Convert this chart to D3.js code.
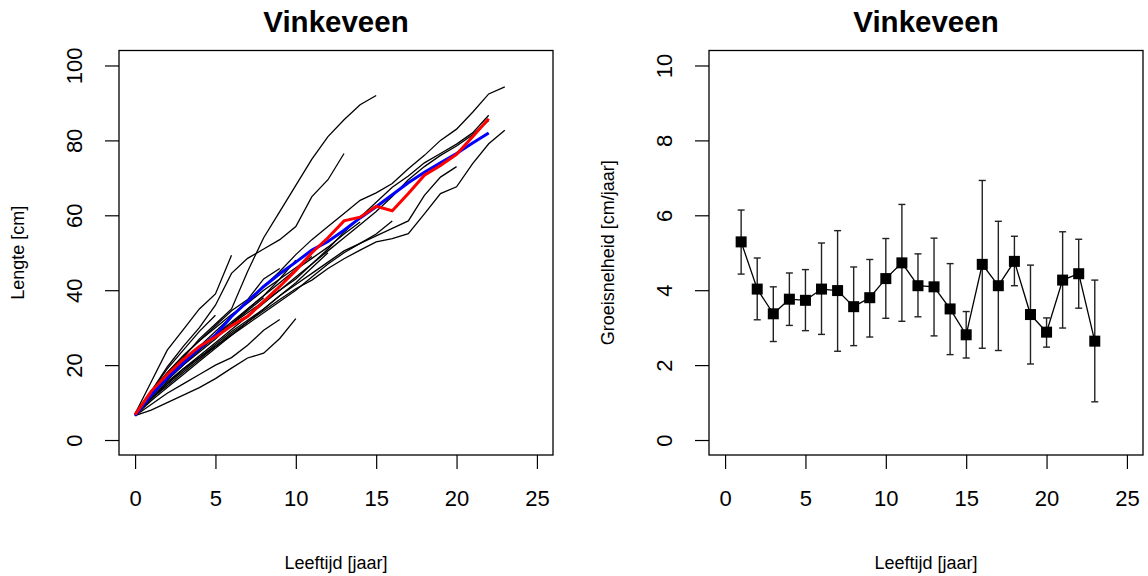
<!DOCTYPE html>
<html>
<head>
<meta charset="utf-8">
<script src="https://cdn.jsdelivr.net/npm/d3@7"></script>
<style>
  body { margin: 0; background: #fff; }
  svg { font-family: "Liberation Sans", Arial, sans-serif; }
</style>
</head>
<body>
<div id="chart"></div>
<script>
// lengte per vis (cm), index = leeftijd (jaar) vanaf 0
const vis1  = [7, 12, 17, 22, 27, 31, 35, 45, 54, 61, 68, 75, 81, 85.5, 89.5, 92];
const vis2  = [7, 13, 19.5, 25, 30, 36, 44.5, 48.5, 51, 53.5, 57, 65, 69.5, 76.5];
const vis3  = [7, 15.5, 24, 29.5, 35, 39, 49.3];
const vis4  = [7, 12, 17, 21, 25, 29, 33, 37, 41, 45, 49.5, 53.5, 57, 60.5, 64, 66, 68.5, 72.4, 76, 80, 83, 87.5, 92.4, 94.3];
const vis5  = [6.5, 11, 15, 19, 22, 25, 28.5, 31.5, 34.5, 37.5, 40.4, 42.7, 45.8, 48.4, 50.7, 52.9, 53.8, 55.1, 60.4, 65.8, 67.6, 73.8, 79.1, 82.7];
const vis6  = [7, 12, 16, 20, 24, 27.5, 31, 34, 37, 40, 43, 47, 51, 55.5, 59.5, 63.5, 67.5, 70.5, 74, 76.5, 79, 82, 86.7];
const vis7  = [7, 11.5, 15.5, 19, 22.5, 26, 29.5, 33, 36.5, 40, 43.5, 47, 50.5, 54, 57.5, 61, 65, 69.5, 73, 76, 78.5, 81.5, 85.3];
const vis8  = [6.5, 10.5, 14, 17.5, 21, 24.5, 28, 31.5, 35, 38.5, 41.5, 44.5, 47.5, 50.5, 52.5, 54.5, 56.5, 58.5, 65.3, 70.2, 73];
const vis9  = [7, 12, 16.5, 20.5, 24, 28, 31.5, 35, 38.5, 42, 45.5, 48.5, 51.5, 55, 58.2];
const vis10 = [7, 12, 16, 20, 23.5, 27, 31, 35, 38.5, 43, 48];
const vis11 = [7, 13, 18, 22.5, 26.5, 30.5, 34.5, 37.5, 43, 45.8];
const vis12 = [7, 13, 19, 24, 29, 33.3];
const vis13 = [6.5, 8, 10, 12, 14, 16.4, 19.2, 21.9, 23.2, 27.1, 32.4];
const vis14 = [6.5, 9.5, 12.5, 15, 17.5, 20, 22, 25.3, 29.3, 32.2];
const vis15 = [7, 11, 15, 18.5, 22, 25.5, 29, 32, 35, 38.5, 42, 46, 50];
const vis16 = [7, 12.5, 17, 21, 24.5, 28, 31, 34.5, 38];
const vis17 = [7, 13, 18, 22.5, 26.5, 30, 33.5, 36.5, 40, 43, 46, 49];
const vis18 = [6.5, 11, 14.5, 18, 21.5, 25, 28, 31, 34, 37, 40, 43.5, 47, 50, 52.5, 55, 58.5];
const vissen = [vis1, vis2, vis3, vis4, vis5, vis6, vis7, vis8, vis9, vis10, vis11, vis12, vis13, vis14, vis15, vis16, vis17, vis18];

// blauw = gefitte groeicurve, rood = gemiddelde lengte per leeftijd
const lengteBlauw = [6.5, 12, 16.5, 20.5, 24.5, 28, 33, 37, 41, 44.4, 47.5, 50.7, 53, 56, 59.3, 62.3, 65.5, 68.7, 71.5, 74, 76.5, 79.3, 82];
const lengteRood  = [6.8, 13, 17.5, 21.5, 25, 27.5, 30.5, 33, 37, 41, 45.3, 50, 54, 58.5, 59.5, 62.4, 61.2, 65.8, 70.7, 73.3, 76.3, 81, 85.8];

// groeisnelheid per leeftijd (cm/jaar) met foutbalken
const leeftijdGroei = [1, 2, 3, 4, 5, 6, 7, 8, 9, 10, 11, 12, 13, 14, 15, 16, 17, 18, 19, 20, 21, 22, 23];
const groei     = [5.29, 4.03, 3.37, 3.76, 3.73, 4.03, 3.99, 3.56, 3.80, 4.31, 4.73, 4.12, 4.09, 3.50, 2.81, 4.69, 4.12, 4.77, 3.35, 2.88, 4.27, 4.44, 2.64];
const groeiHoog = [6.14, 4.86, 4.09, 4.46, 4.55, 5.26, 5.59, 4.62, 4.82, 5.38, 6.29, 4.97, 5.39, 4.71, 3.43, 6.93, 5.84, 5.44, 4.67, 3.26, 5.56, 5.36, 4.27];
const groeiLaag = [4.43, 3.21, 2.63, 3.06, 2.92, 2.82, 2.37, 2.52, 2.75, 3.25, 3.17, 3.29, 2.78, 2.28, 2.19, 2.45, 2.39, 4.12, 2.03, 2.48, 2.99, 3.52, 1.02];

const xTicks = [0, 5, 10, 15, 20, 25];
const yTicksL = [0, 20, 40, 60, 80, 100];
const yTicksR = [0, 2, 4, 6, 8, 10];

const W = 1148, H = 576;
const svg = d3.select("#chart").append("svg").attr("width", W).attr("height", H);

const plotTop = 50.5, plotBottom = 455;

function paneel(left, right, yDomain, yTicks, ylab) {
  const x = d3.scaleLinear().domain([-1, 26]).range([left, right]);
  const y = d3.scaleLinear().domain(yDomain).range([plotBottom, plotTop]);
  const g = svg.append("g");

  // x-as
  const ax = g.append("g").attr("transform", "translate(0," + plotBottom + ")")
    .call(d3.axisBottom(x).tickValues(xTicks).tickSize(14).tickSizeOuter(0).tickPadding(21));
  ax.select(".domain").remove();
  ax.selectAll("line").attr("stroke", "#000").attr("stroke-width", 1.2);
  ax.selectAll("text").attr("font-size", 22).attr("fill", "#000");

  // y-as, labels gedraaid zoals in R
  const ay = g.append("g").attr("transform", "translate(" + left + ",0)")
    .call(d3.axisLeft(y).tickValues(yTicks).tickSize(14).tickSizeOuter(0));
  ay.select(".domain").remove();
  ay.selectAll("line").attr("stroke", "#000").attr("stroke-width", 1.2);
  ay.selectAll("text")
    .attr("x", null).attr("dy", null)
    .attr("transform", "translate(-37,0) rotate(-90)")
    .attr("text-anchor", "middle")
    .attr("font-size", 22).attr("fill", "#000");

  // kader
  g.append("rect").attr("x", left).attr("y", plotTop)
    .attr("width", right - left).attr("height", plotBottom - plotTop)
    .attr("fill", "none").attr("stroke", "#000").attr("stroke-width", 1.3);

  const cx = (left + right) / 2;
  g.append("text").attr("x", cx).attr("y", 32).attr("text-anchor", "middle")
    .attr("font-size", 29.5).attr("font-weight", "bold").text("Vinkeveen");
  g.append("text").attr("x", cx).attr("y", 569).attr("text-anchor", "middle")
    .attr("font-size", 18).text("Leeftijd [jaar]");
  g.append("text").attr("transform", "translate(" + (left - 95) + "," + ((plotTop + plotBottom) / 2) + ") rotate(-90)")
    .attr("text-anchor", "middle").attr("font-size", 18).text(ylab);

  return { g, x, y };
}

// linker paneel: lengte
const L = paneel(119, 553, [-4, 104], yTicksL, "Lengte [cm]");
const lijn = d3.line().x((d, i) => L.x(i)).y(d => L.y(d));
L.g.selectAll(".vis").data(vissen).enter().append("path")
  .attr("class", "vis").attr("d", lijn)
  .attr("fill", "none").attr("stroke", "#000").attr("stroke-width", 1.3);
L.g.append("path").attr("d", lijn(lengteBlauw))
  .attr("fill", "none").attr("stroke", "#0000ff").attr("stroke-width", 3);
L.g.append("path").attr("d", lijn(lengteRood))
  .attr("fill", "none").attr("stroke", "#ff0000").attr("stroke-width", 3);

// rechter paneel: groeisnelheid
const R = paneel(709, 1143, [-0.4, 10.4], yTicksR, "Groeisnelheid [cm/jaar]");
const pts = leeftijdGroei.map((a, i) => ({ a, v: groei[i], hi: groeiHoog[i], lo: groeiLaag[i] }));

const eb = R.g.selectAll(".eb").data(pts).enter().append("g").attr("class", "eb")
  .attr("stroke", "#222").attr("stroke-width", 1.4);
eb.append("line").attr("x1", d => R.x(d.a)).attr("x2", d => R.x(d.a))
  .attr("y1", d => R.y(d.lo)).attr("y2", d => R.y(d.hi));
eb.append("line").attr("x1", d => R.x(d.a) - 3.5).attr("x2", d => R.x(d.a) + 3.5)
  .attr("y1", d => R.y(d.hi)).attr("y2", d => R.y(d.hi));
eb.append("line").attr("x1", d => R.x(d.a) - 3.5).attr("x2", d => R.x(d.a) + 3.5)
  .attr("y1", d => R.y(d.lo)).attr("y2", d => R.y(d.lo));

R.g.append("path")
  .attr("d", d3.line().x(d => R.x(d.a)).y(d => R.y(d.v))(pts))
  .attr("fill", "none").attr("stroke", "#000").attr("stroke-width", 1.3);

R.g.selectAll(".pt").data(pts).enter().append("rect").attr("class", "pt")
  .attr("x", d => R.x(d.a) - 5.5).attr("y", d => R.y(d.v) - 5.5)
  .attr("width", 11).attr("height", 11).attr("fill", "#000");
</script>
</body>
</html>
